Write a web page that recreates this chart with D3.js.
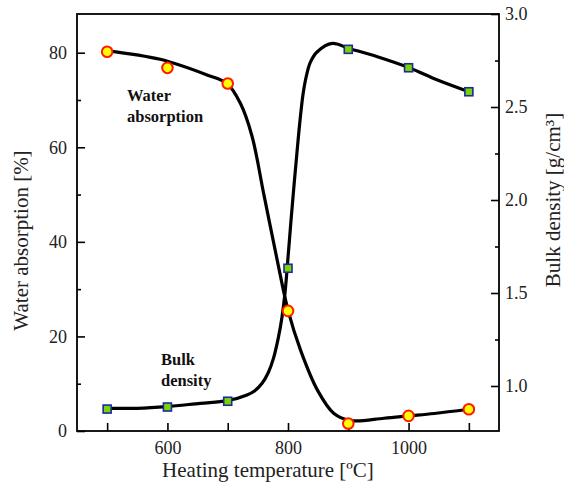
<!DOCTYPE html>
<html>
<head>
<meta charset="utf-8">
<script src="https://cdn.jsdelivr.net/npm/d3@7"></script>
<style>
  html, body { margin: 0; padding: 0; background: #fff; }
  svg { display: block; font-family: "Liberation Serif", "Times New Roman", serif; }
</style>
</head>
<body>
<svg id="chart" width="564" height="483"></svg>
<script>
// ---- Data ----
const temperatures = [500, 600, 700, 800, 900, 1000, 1100];
const waterAbsorption = [80.2, 76.8, 73.5, 25.4, 1.6, 3.2, 4.6];       // %
const bulkDensity = [0.876, 0.887, 0.918, 1.633, 2.810, 2.711, 2.582];  // g/cm3

// hand-drawn fit curves
const waterCurveT = [500, 588, 665.6, 698.9, 721, 740, 760, 782, 800.3, 820.8, 848.6, 876.2, 903.9, 959.3, 1000.9, 1042.5, 1100];
const waterCurveV = [80.4, 78.6, 75.3, 73.5, 69.3, 62.5, 50.0, 36.2, 25.4, 17.1, 8.7, 3.7, 2.2, 2.7, 3.2, 3.7, 4.6];
const bulkCurveT = [500, 549, 599, 654.5, 699, 732, 745, 757, 767, 776, 784, 790, 795, 800, 805, 810, 815, 820, 825, 830, 837, 848.6, 873.5, 900, 948.3, 1001, 1048, 1100];
const bulkCurveV = [0.880, 0.880, 0.889, 0.907, 0.921, 0.952, 0.975, 1.015, 1.07, 1.15, 1.26, 1.37, 1.50, 1.69, 1.89, 2.08, 2.26, 2.43, 2.57, 2.66, 2.74, 2.797, 2.842, 2.816, 2.770, 2.711, 2.645, 2.582];

const xTicks = [500, 600, 700, 800, 900, 1000, 1100];
const xTickLabels = [600, 800, 1000];
const leftMajorTicks = [0, 20, 40, 60, 80];
const leftMinorTicks = [10, 30, 50, 70];
const rightMajorTicks = [1.0, 1.5, 2.0, 2.5, 3.0];
const rightMinorTicks = [1.25, 1.75, 2.25, 2.75];

const xTitle = "Heating temperature [ºC]";
const yLeftTitle = "Water absorption [%]";
const yRightTitle = "Bulk density [g/cm³]";
const waterLabel = ["Water", "absorption"];
const bulkLabel = ["Bulk", "density"];

// ---- Layout ----
const L = 77, R = 499, T = 14, B = 431;
const svg = d3.select("#chart");

const x = d3.scaleLinear().domain([450, 1150]).range([L, R]);
const yL = d3.scaleLinear().domain([0, (B - T) / ((B - 52.7) / 80)]).range([B, T]);
const yR = d3.scaleLinear().domain([1.0 - (B - 386) / 186, 3.0]).range([B, T]);

// curves
const waterLine = d3.line().x(d => x(d[0])).y(d => yL(d[1])).curve(d3.curveCatmullRom.alpha(0.5));
const bulkLine = d3.line().x(d => x(d[0])).y(d => yR(d[1])).curve(d3.curveCatmullRom.alpha(0.5));

svg.append("path")
  .attr("d", waterLine(waterCurveT.map((t, i) => [t, waterCurveV[i]])))
  .attr("fill", "none").attr("stroke", "#000").attr("stroke-width", 3.2)
  .attr("stroke-linejoin", "round").attr("stroke-linecap", "round");
svg.append("path")
  .attr("d", bulkLine(bulkCurveT.map((t, i) => [t, bulkCurveV[i]])))
  .attr("fill", "none").attr("stroke", "#000").attr("stroke-width", 3.2)
  .attr("stroke-linejoin", "round").attr("stroke-linecap", "round");

// axes
const fontSize = 18;
const styleAxis = g => {
  g.select(".domain").remove();
  g.selectAll("line").attr("stroke", "#000").attr("stroke-width", 1.6);
  g.selectAll("text").attr("font-family", "Liberation Serif, serif").attr("font-size", fontSize).attr("fill", "#222");
};

svg.append("g").attr("transform", `translate(0,${B})`)
  .call(d3.axisBottom(x).tickValues(xTicks).tickSize(-8).tickPadding(10)
    .tickFormat(d => xTickLabels.includes(d) ? String(d) : ""))
  .call(styleAxis);

svg.append("g").attr("transform", `translate(${L},0)`)
  .call(d3.axisLeft(yL).tickValues(leftMajorTicks).tickSize(-8).tickPadding(10).tickFormat(d3.format("d")))
  .call(styleAxis);
svg.append("g").attr("transform", `translate(${L},0)`)
  .call(d3.axisLeft(yL).tickValues(leftMinorTicks).tickSize(-4).tickFormat(""))
  .call(styleAxis);

svg.append("g").attr("transform", `translate(${R},0)`)
  .call(d3.axisRight(yR).tickValues(rightMajorTicks).tickSize(-8).tickPadding(6).tickFormat(d3.format(".1f")))
  .call(styleAxis);
svg.append("g").attr("transform", `translate(${R},0)`)
  .call(d3.axisRight(yR).tickValues(rightMinorTicks).tickSize(-4).tickFormat(""))
  .call(styleAxis);

// frame
svg.append("rect").attr("x", L).attr("y", T).attr("width", R - L).attr("height", B - T)
  .attr("fill", "none").attr("stroke", "#000").attr("stroke-width", 1.8);

// markers
svg.append("g").selectAll("rect").data(temperatures.map((t, i) => [t, bulkDensity[i]])).join("rect")
  .attr("x", d => x(d[0]) - 4).attr("y", d => yR(d[1]) - 4)
  .attr("width", 8).attr("height", 8)
  .attr("fill", "#7ad400").attr("stroke", "#1c2a9c").attr("stroke-width", 1.6);

svg.append("g").selectAll("circle").data(temperatures.map((t, i) => [t, waterAbsorption[i]])).join("circle")
  .attr("cx", d => x(d[0])).attr("cy", d => yL(d[1])).attr("r", 5.3)
  .attr("fill", "#ffff00").attr("stroke", "#ff1a00").attr("stroke-width", 2);

// in-plot labels
const lbl = (lines, x0, y0) => {
  const t = svg.append("text").attr("font-family", "Liberation Serif, serif").attr("font-weight", "bold")
    .attr("font-size", 16.5).attr("fill", "#111");
  lines.forEach((s, i) => t.append("tspan").attr("x", x0).attr("y", y0 + i * 20.5).text(s));
};
lbl(waterLabel, 127, 101);
lbl(bulkLabel, 161, 365);

// axis titles
svg.append("text").attr("x", 268).attr("y", 477).attr("text-anchor", "middle")
  .attr("font-size", 21).attr("fill", "#222").text(xTitle);
svg.append("text").attr("transform", `translate(28,${(T + B) / 2 + 18}) rotate(-90)`).attr("text-anchor", "middle")
  .attr("font-size", 21).attr("fill", "#222").text(yLeftTitle);
svg.append("text").attr("transform", `translate(560,200) rotate(-90)`).attr("text-anchor", "middle")
  .attr("font-size", 21).attr("fill", "#222").text(yRightTitle);
</script>
</body>
</html>
